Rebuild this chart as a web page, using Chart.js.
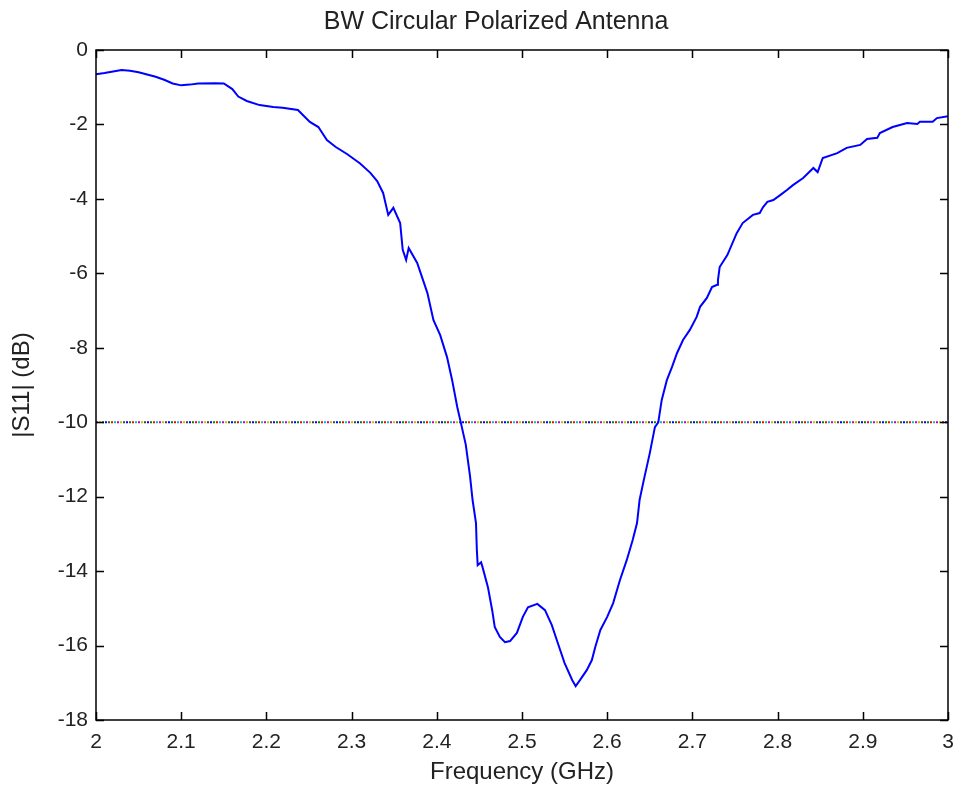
<!DOCTYPE html>
<html>
<head>
<meta charset="utf-8">
<script src="https://cdn.jsdelivr.net/npm/chart.js@4.4.1/dist/chart.umd.min.js"></script>
<style>
  html, body { margin: 0; padding: 0; background: #fff; }
  #wrap { width: 957px; height: 794px; }
</style>
</head>
<body>
<div id="wrap"><canvas id="chart"></canvas></div>
<script>
// measured |S11| curve (GHz, dB)
const freq = [
  2.000, 2.010, 2.020, 2.030, 2.040, 2.050, 2.060, 2.070, 2.080, 2.090,
  2.100, 2.110, 2.120, 2.140, 2.150, 2.160, 2.167, 2.177, 2.192, 2.208,
  2.219, 2.237, 2.251, 2.261, 2.271, 2.281, 2.295, 2.310, 2.322, 2.330,
  2.337, 2.343, 2.349, 2.357, 2.360, 2.364, 2.367, 2.377, 2.389, 2.396,
  2.404, 2.412, 2.418, 2.424, 2.428, 2.434, 2.439, 2.442, 2.446, 2.447,
  2.448, 2.452, 2.454, 2.460, 2.465, 2.468, 2.474, 2.480, 2.486, 2.494,
  2.501, 2.507, 2.518, 2.527, 2.535, 2.542, 2.550, 2.559, 2.563, 2.568,
  2.576, 2.582, 2.586, 2.592, 2.600, 2.607, 2.615, 2.623, 2.630, 2.635,
  2.638, 2.643, 2.650, 2.656, 2.660, 2.664, 2.670, 2.676, 2.682, 2.689,
  2.697, 2.705, 2.709, 2.717, 2.723, 2.729, 2.730, 2.732, 2.741, 2.752,
  2.759, 2.771, 2.779, 2.783, 2.788, 2.795, 2.803, 2.811, 2.818, 2.830,
  2.842, 2.847, 2.853, 2.870, 2.881, 2.897, 2.905, 2.917, 2.920, 2.935,
  2.952, 2.964, 2.967, 2.982, 2.987, 3.000
];
const s11 = [
  -0.65, -0.62, -0.58, -0.54, -0.56, -0.60, -0.66, -0.72, -0.80, -0.90,
  -0.95, -0.93, -0.90, -0.89, -0.90, -1.05, -1.25, -1.37, -1.48, -1.53,
  -1.55, -1.61, -1.93, -2.07, -2.42, -2.60, -2.80, -3.05, -3.30, -3.52,
  -3.84, -4.43, -4.24, -4.65, -5.37, -5.64, -5.32, -5.72, -6.53, -7.25,
  -7.66, -8.25, -8.87, -9.59, -9.99, -10.60, -11.45, -12.09, -12.71, -13.43,
  -13.84, -13.76, -13.92, -14.43, -15.05, -15.50, -15.77, -15.91, -15.88, -15.66,
  -15.23, -14.97, -14.88, -15.05, -15.45, -15.93, -16.47, -16.93, -17.09, -16.93,
  -16.66, -16.39, -16.04, -15.58, -15.23, -14.86, -14.24, -13.70, -13.16, -12.71,
  -12.09, -11.55, -10.83, -10.13, -10.00, -9.40, -8.87, -8.52, -8.14, -7.79,
  -7.52, -7.17, -6.90, -6.66, -6.37, -6.31, -6.18, -5.83, -5.51, -4.92,
  -4.65, -4.43, -4.38, -4.22, -4.08, -4.03, -3.90, -3.76, -3.63, -3.44,
  -3.17, -3.28, -2.90, -2.77, -2.63, -2.55, -2.39, -2.36, -2.23, -2.07,
  -1.96, -1.99, -1.93, -1.93, -1.83, -1.78
];
// -10 dB bandwidth marker
const limitX = [2, 3];
const limitY = [-10, -10];

const xTicks = { min: 2, max: 3, step: 0.1 };
const yTicks = { min: -18, max: 0, step: 2 };

const chartTitle = 'BW Circular Polarized Antenna';

// matlab style dotted line, one dot per colour
function dotPattern() {
  const cols = ['#0000ff', '#008000', '#ff0000', '#00bfbf', '#bf00bf', '#bfbf00', '#404040'];
  const c = document.createElement('canvas');
  c.width = cols.length * 3;
  c.height = 4;
  const g = c.getContext('2d');
  cols.forEach((col, i) => {
    g.fillStyle = col;
    g.fillRect(i * 3, 0, 2, 4);
  });
  return g.createPattern(c, 'repeat');
}

// box round the plot with ticks pointing inward on all sides, plus title
const boxPlugin = {
  id: 'box',
  afterDraw(chart) {
    const { ctx, chartArea: a, scales } = chart;
    const len = 8;
    ctx.save();
    ctx.strokeStyle = '#000';
    ctx.lineWidth = 1.5;
    ctx.beginPath();
    scales.x.ticks.forEach(t => {
      const px = Math.round(scales.x.getPixelForValue(t.value)) + 0.5;
      ctx.moveTo(px, a.bottom); ctx.lineTo(px, a.bottom - len);
      ctx.moveTo(px, a.top); ctx.lineTo(px, a.top + len);
    });
    scales.y.ticks.forEach(t => {
      const py = Math.round(scales.y.getPixelForValue(t.value)) + 0.5;
      ctx.moveTo(a.left, py); ctx.lineTo(a.left + len, py);
      ctx.moveTo(a.right, py); ctx.lineTo(a.right - len, py);
    });
    ctx.stroke();
    ctx.strokeRect(a.left, a.top, a.right - a.left, a.bottom - a.top);

    // title sits a bit left of the plot centre, as in the matlab figure
    ctx.fillStyle = '#222';
    ctx.font = '25px "Liberation Sans"';
    ctx.textAlign = 'center';
    ctx.textBaseline = 'middle';
    ctx.fillText(chartTitle, (a.left + a.right) / 2 - 26, a.top - 28);
    ctx.restore();
  }
};

const ctx = document.getElementById('chart').getContext('2d');

new Chart(ctx, {
  type: 'line',
  data: {
    datasets: [
      {
        label: '|S11|',
        data: freq.map((f, i) => ({ x: f, y: s11[i] })),
        borderColor: '#0000ff',
        borderWidth: 2,
        pointRadius: 0,
        tension: 0
      },
      {
        label: '-10 dB',
        data: limitX.map((f, i) => ({ x: f, y: limitY[i] })),
        borderColor: dotPattern(),
        borderWidth: 2,
        pointRadius: 0
      }
    ]
  },
  options: {
    animation: false,
    responsive: true,
    maintainAspectRatio: false,
    layout: { padding: { left: 0, right: 9, top: 50, bottom: 0 } },
    plugins: {
      legend: { display: false },
      tooltip: { enabled: false },
      title: { display: false }
    },
    scales: {
      x: {
        type: 'linear',
        min: xTicks.min,
        max: xTicks.max,
        grid: { display: false, drawTicks: false },
        border: { display: false },
        ticks: {
          stepSize: xTicks.step,
          color: '#222',
          padding: 10,
          maxRotation: 0,
          font: { family: 'Liberation Sans', size: 21 },
          callback: v => String(+v.toFixed(1))
        },
        title: {
          display: true,
          text: 'Frequency (GHz)',
          color: '#222',
          font: { family: 'Liberation Sans', size: 24 },
          padding: { top: 0, bottom: 7 }
        },
        afterFit(scale) {
          scale.height = 74;
          scale.paddingLeft = 0;
          scale.paddingRight = 0;
        }
      },
      y: {
        type: 'linear',
        min: yTicks.min,
        max: yTicks.max,
        grid: { display: false, drawTicks: false },
        border: { display: false },
        ticks: {
          stepSize: yTicks.step,
          color: '#222',
          padding: 8,
          font: { family: 'Liberation Sans', size: 21 }
        },
        title: {
          display: true,
          text: '|S11| (dB)',
          color: '#222',
          font: { family: 'Liberation Sans', size: 24 },
          padding: { top: 8, bottom: 0 }
        },
        afterFit(scale) { scale.width = 96; }
      }
    }
  },
  plugins: [boxPlugin]
});
</script>
</body>
</html>
